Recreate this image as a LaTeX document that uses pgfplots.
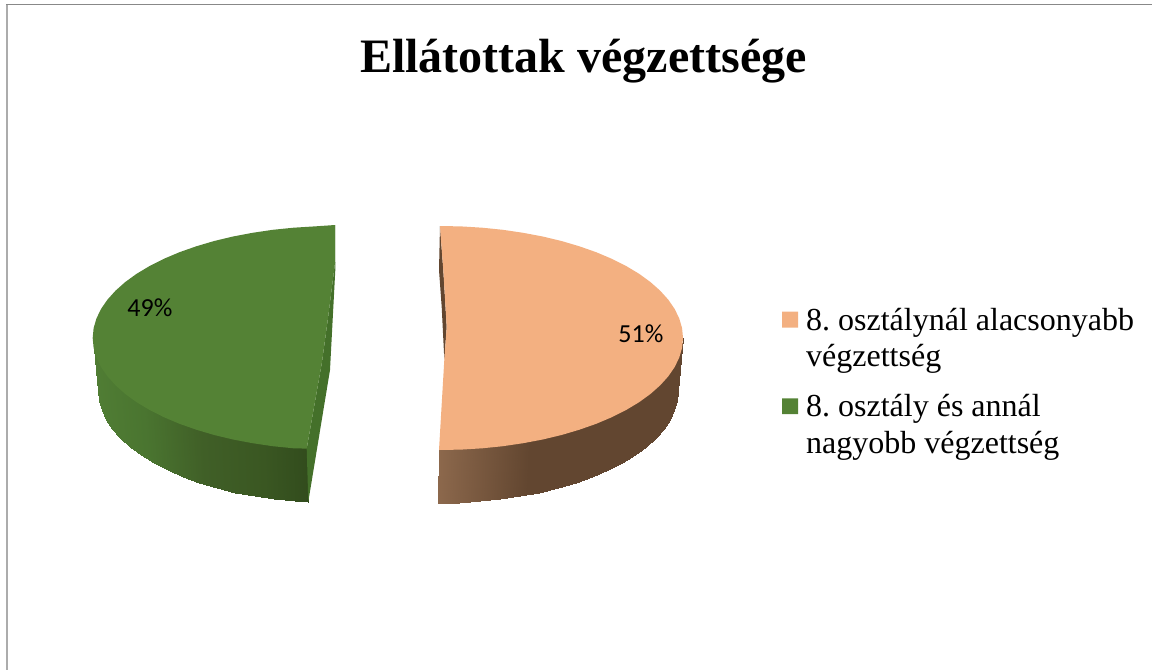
\documentclass[border=0pt]{standalone}
\usepackage{pgfplots}
\usepackage{pgfplotstable}
\usepackage{fontspec}
\pgfplotsset{compat=1.18}
\setmainfont{Liberation Serif}
\newfontfamily\labelfont{Carlito}
\frenchspacing
\definecolor{orangetop}{RGB}{243,176,129}
\definecolor{greentop}{RGB}{84,130,53}
\definecolor{orangewall}{RGB}{98,70,48}
\definecolor{greenwall}{RGB}{68,112,42}
\pgfplotsset{
 colormap={orangeside}{rgb255(0pt)=(140,104,76); rgb255(91pt)=(98,70,48); rgb255(244pt)=(98,70,48)},
 colormap={greenside}{rgb255(0pt)=(80,125,52); rgb255(50pt)=(74,117,48); rgb255(110pt)=(64,95,39); rgb255(170pt)=(58,87,34); rgb255(214pt)=(50,76,29)}
}
\pgfplotstableread{
x y c
439 448 439
461.2 447.6 461.2
482.2 446.3 482.2
502.9 444.2 502.9
523.1 441.2 523.1
542.7 437.5 542.7
561.5 433 561.5
579.4 427.7 579.4
596.2 421.8 596.2
611.8 415.2 611.8
626.1 408 626.1
639.1 400.2 639.1
650.4 392 650.4
660.2 383.3 660.2
668.3 374.3 668.3
674.7 365 674.7
679.3 355.4 679.3
682.1 345.8 682.1
683 338 683
438 503 439
458.9 502.6 461.2
479.7 501.3 482.2
500.1 499.2 502.9
520.1 496.2 523.1
539.4 492.5 542.7
558 488 561.5
575.7 482.7 579.4
592.3 476.8 596.2
607.7 470.2 611.8
621.8 463 626.1
634.6 455.2 639.1
645.8 447 650.4
655.5 438.3 660.2
663.5 429.3 668.3
669.8 420 674.7
674.4 410.4 679.3
677.1 400.8 682.1
678 391 683
}\orangeside
\pgfplotstableread{
x y c
92.7 338 92.7
93.6 345.8 93.6
96.4 355.4 96.4
101 365 101
107.4 374.3 107.4
115.5 383.3 115.5
125.3 392 125.3
136.6 400.2 136.6
149.6 408 149.6
163.9 415.2 163.9
179.5 421.8 179.5
196.3 427.7 196.3
214.2 433 214.2
233 437.5 233
252.6 441.2 252.6
272.8 444.2 272.8
293.5 446.3 293.5
306.7 446.6 306.7
98 391 92.7
98.9 400.8 93.6
101.6 410.4 96.4
106.1 420 101
112.4 429.3 107.4
120.3 438.3 115.5
129.9 447 125.3
141 455.2 136.6
153.7 463 149.6
167.7 470.2 163.9
183 476.8 179.5
199.5 482.7 196.3
217 488 214.2
235.4 492.5 233
254.6 496.2 252.6
274.4 499.2 272.8
294.7 501.3 293.5
308.3 502 306.7
}\greenside
\begin{document}
\begin{tikzpicture}
\useasboundingbox (0,0) rectangle (1152pt,670pt);
\begin{axis}[
 at={(0,0)},anchor=south west,
 scale only axis,width=1152pt,height=670pt,
 xmin=0,xmax=1152,ymin=0,ymax=670,y dir=reverse,
 axis lines=none,clip=false,
 point meta rel=per plot
]
% chart frame
\addplot[draw={rgb,255:red,172;green,172;blue,172},line width=1.8pt] coordinates {(6.6,4) (6.6,670)};
\addplot[draw={rgb,255:red,136;green,136;blue,136},line width=1.3pt] coordinates {(6,4.6) (1152,4.6)};
% orange slice
\addplot[surf,shader=interp,colormap name=orangeside,mesh/rows=2,mesh/cols=19,point meta=explicit] table[x=x,y=y,meta=c] {\orangeside};
\addplot[fill=orangewall,draw=none] coordinates {(440,226) (439,270) (441.7,307) (444,353) (444.3,360) (446.7,327) (443.3,270) (441,240) (440,226)};
\addplot[fill=orangetop,draw=none] coordinates {
(440,226) (461.2,226.4) (482.2,227.7) (502.9,229.8) (523.1,232.8) (542.7,236.5) (561.5,241) (579.4,246.3) (596.2,252.2) (611.8,258.8) (626.1,266) (639.1,273.8) (650.4,282) (660.2,290.7) (668.3,299.7) (674.7,309) (679.3,318.6) (682.1,328.2) (683,338)
(682.1,347.8) (679.3,357.4) (674.7,367) (668.3,376.3) (660.2,385.3) (650.4,394) (639.1,402.2) (626.1,410) (611.8,417.2) (596.2,423.8) (579.4,429.7) (561.5,435) (542.7,439.5) (523.1,443.2) (502.9,446.2) (482.2,448.3) (461.2,449.6) (439,450)
(444.3,360) (446.7,327) (443.3,270) (441,240) (440,226)};
% green slice
\addplot[surf,shader=interp,colormap name=greenside,mesh/rows=2,mesh/cols=18,point meta=explicit] table[x=x,y=y,meta=c] {\greenside};
\addplot[fill=greenwall,draw=none] coordinates {(335,225) (335.3,270) (330,370) (308.3,501.7) (306.7,448.6) (322,362) (328,318) (335,263) (335,225)};
\addplot[fill=greentop,draw=none] coordinates {
(335,225) (314.5,226.4) (293.5,227.7) (272.8,229.8) (252.6,232.8) (233,236.5) (214.2,241) (196.3,246.3) (179.5,252.2) (163.9,258.8) (149.6,266) (136.6,273.8) (125.3,282) (115.5,290.7) (107.4,299.7) (101,309) (96.4,318.6) (93.6,328.2) (92.7,338)
(93.6,347.8) (96.4,357.4) (101,367) (107.4,376.3) (115.5,385.3) (125.3,394) (136.6,402.2) (149.6,410) (163.9,417.2) (179.5,423.8) (196.3,429.7) (214.2,435) (233,439.5) (252.6,443.2) (272.8,446.2) (293.5,448.3) (306.7,448.6)
(322,362) (328,318) (335,263) (335,225)};
% legend swatches
\addplot[fill=orangetop,draw=none] coordinates {(782,311.7) (798,311.7) (798,327.7) (782,327.7) (782,311.7)};
\addplot[fill=greentop,draw=none] coordinates {(782,398.3) (798,398.3) (798,414) (782,414) (782,398.3)};
% text
\node[anchor=base,inner sep=0pt] at (axis cs:583.5,72) {\fontsize{48}{48}\selectfont\bfseries Ellátottak végzettsége};
\node[anchor=base west,inner sep=0pt] at (axis cs:127.2,316) {\fontsize{26}{26}\labelfont 49\%};
\node[anchor=base west,inner sep=0pt] at (axis cs:618.2,342) {\fontsize{26}{26}\labelfont 51\%};
\node[anchor=base west,inner sep=0pt] at (axis cs:806,330.5) {\fontsize{32}{32}\selectfont 8. osztálynál alacsonyabb};
\node[anchor=base west,inner sep=0pt] at (axis cs:806,366) {\fontsize{32}{32}\selectfont végzettség};
\node[anchor=base west,inner sep=0pt] at (axis cs:806,416.5) {\fontsize{32}{32}\selectfont 8. osztály és annál};
\node[anchor=base west,inner sep=0pt] at (axis cs:806,453.5) {\fontsize{32}{32}\selectfont nagyobb végzettség};
\end{axis}
\end{tikzpicture}
\end{document}
